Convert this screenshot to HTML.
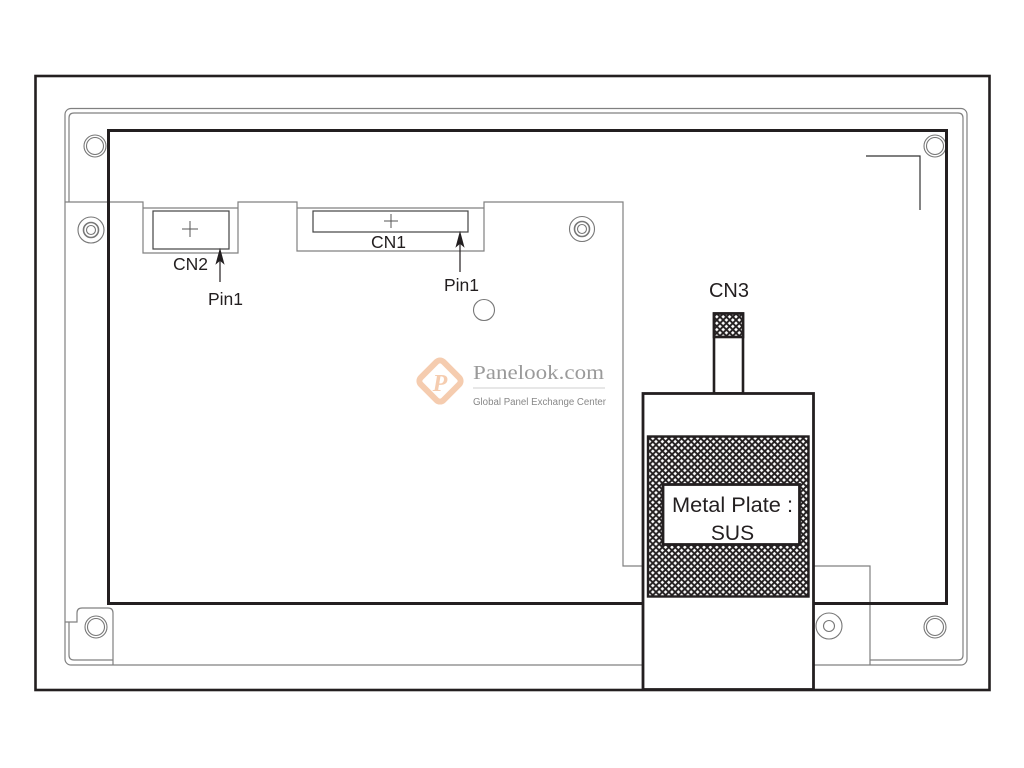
<!DOCTYPE html>
<html><head><meta charset="utf-8"><style>
html,body{margin:0;padding:0;background:#fff;}
svg{display:block;}
</style></head><body>
<svg width="1024" height="768" viewBox="0 0 1024 768" xmlns="http://www.w3.org/2000/svg">
<defs>
<pattern id="hatch" patternUnits="userSpaceOnUse" width="6.4" height="6.4">
<rect width="6.4" height="6.4" fill="#fff"/>
<path d="M-1.6,1.6 L1.6,-1.6 M0,6.4 L6.4,0 M4.8,8 L8,4.8" stroke="#231f20" stroke-width="1.9"/>
<path d="M-1.6,4.8 L1.6,8 M0,0 L6.4,6.4 M4.8,-1.6 L8,1.6" stroke="#231f20" stroke-width="1.9"/>
</pattern>
</defs>
<rect width="1024" height="768" fill="#fff"/>

<!-- outer frame -->
<rect x="35.5" y="76" width="954" height="614" fill="none" stroke="#231f20" stroke-width="2.6"/>

<g fill="none" stroke="#808080" stroke-width="1.2">
<!-- bezel outer -->
<rect x="65" y="108.5" width="902" height="556.5" rx="6"/>
<!-- bezel inner: top + right + right bottom portion -->
<path d="M69,202 L69,118 Q69,113 74,113 L958,113 Q963,113 963,118 L963,655 Q963,660 958,660 L870,660"/>
<!-- bottom-left inner -->
<path d="M69,622 L69,655 Q69,660 74,660 L113,660"/>
<!-- bottom-left tab -->
<path d="M65,622 L77,622 L77,613 Q77,608 82,608 L108,608 Q113,608 113,613 L113,665"/>
<!-- PCB outline -->
<path d="M65,202 L143,202 L143,253 L238,253 L238,202 L297,202 L297,251 L484,251 L484,202 L623,202 L623,566 L643,566"/>
<path d="M143,208 L238,208"/>
<path d="M297,208 L484,208"/>
<path d="M813,566 L870,566 L870,665"/>
<!-- top right corner mark -->
<path d="M866,156 L920,156 L920,210" stroke="#333"/>
</g>

<!-- screws: double ring type -->
<g fill="none" stroke="#777" stroke-width="1.1">
<circle cx="95" cy="146" r="11"/><circle cx="95" cy="146" r="8.5"/>
<circle cx="935" cy="146" r="11"/><circle cx="935" cy="146" r="8.5"/>
<circle cx="96" cy="627" r="11"/><circle cx="96" cy="627" r="8.5"/>
<circle cx="935" cy="627" r="11"/><circle cx="935" cy="627" r="8.5"/>
<!-- ring type -->
<circle cx="91" cy="230" r="13"/><circle cx="91" cy="230" r="7.5" stroke-width="1.6"/><circle cx="91" cy="230" r="4.5"/>
<circle cx="582" cy="229" r="12.5"/><circle cx="582" cy="229" r="7.5" stroke-width="1.6"/><circle cx="582" cy="229" r="4.5"/>
<circle cx="829" cy="626" r="13"/><circle cx="829" cy="626" r="5.5"/>
<circle cx="484" cy="310" r="10.5"/>
</g>

<!-- display area -->
<rect x="108.5" y="130.5" width="838" height="473" fill="none" stroke="#231f20" stroke-width="3"/>

<!-- CN2 -->
<rect x="153" y="211" width="76" height="38" fill="none" stroke="#444" stroke-width="1.2"/>
<path d="M182,229 L198,229 M190,221 L190,237" stroke="#555" stroke-width="1"/>
<!-- CN1 -->
<rect x="313" y="211" width="155" height="21" fill="none" stroke="#444" stroke-width="1.2"/>
<path d="M384,221 L398,221 M391,214 L391,228" stroke="#555" stroke-width="1"/>

<!-- arrows -->
<g stroke="#231f20" stroke-width="1.2" fill="#231f20">
<line x1="220" y1="282" x2="220" y2="258"/>
<path d="M220,250 L223.5,263 L220,260 L216.5,263 Z"/>
<line x1="460" y1="272" x2="460" y2="241"/>
<path d="M460,233 L463.5,246 L460,243 L456.5,246 Z"/>
</g>

<g font-family="'Liberation Sans', Arial, sans-serif" fill="#231f20">
<text x="190.5" y="270" font-size="17.5" text-anchor="middle">CN2</text>
<text x="225.5" y="305" font-size="17.5" text-anchor="middle">Pin1</text>
<text x="388.5" y="248" font-size="17.5" text-anchor="middle">CN1</text>
<text x="461.5" y="291" font-size="17.5" text-anchor="middle">Pin1</text>
<text x="729" y="297" font-size="20" text-anchor="middle">CN3</text>
</g>

<!-- logo -->
<g opacity="0.85">
<rect x="424" y="365" width="32" height="32" rx="5" transform="rotate(45 440 381)" fill="none" stroke="#f4c4a2" stroke-width="6"/>
<text x="440" y="391" font-family="'Liberation Serif', serif" font-style="italic" font-weight="bold" font-size="24" fill="#f4c4a2" text-anchor="middle">P</text>
</g>
<text x="473" y="379" font-family="'Liberation Serif', serif" font-size="20" fill="#9a9a9a" textLength="131" lengthAdjust="spacingAndGlyphs">Panelook.com</text>
<line x1="473" y1="388" x2="605" y2="388" stroke="#cfcfcf" stroke-width="1"/>
<text x="473" y="405" font-family="'Liberation Sans', sans-serif" font-size="10" fill="#888" textLength="133" lengthAdjust="spacingAndGlyphs">Global Panel Exchange Center</text>

<!-- CN3 stem -->
<rect x="714" y="313.5" width="29" height="80" fill="#fff" stroke="#231f20" stroke-width="2.6"/>
<rect x="714" y="313.5" width="29" height="23.5" fill="url(#hatch)" stroke="#231f20" stroke-width="2.6"/>

<!-- metal plate box -->
<rect x="643" y="393.5" width="170.5" height="296" fill="#fff" stroke="#231f20" stroke-width="2.8"/>
<rect x="648" y="436.5" width="160.5" height="160" fill="url(#hatch)" stroke="#231f20" stroke-width="2.4"/>
<rect x="663" y="484.5" width="136.5" height="60" fill="#fff" stroke="#231f20" stroke-width="2.8"/>
<g font-family="'Liberation Sans', Arial, sans-serif" fill="#231f20" font-size="21">
<text x="732.5" y="512" text-anchor="middle" textLength="121" lengthAdjust="spacingAndGlyphs">Metal Plate :</text>
<text x="732.5" y="540" text-anchor="middle">SUS</text>
</g>
</svg>
</body></html>
